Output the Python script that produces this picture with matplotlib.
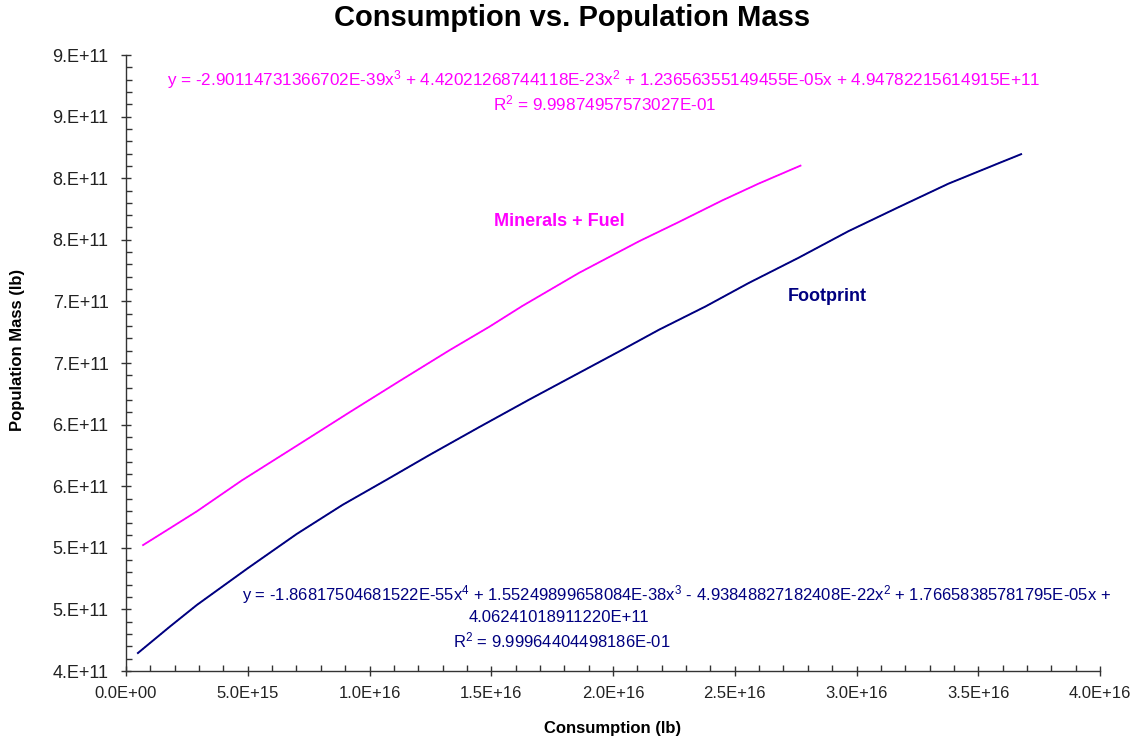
import matplotlib
matplotlib.use('Agg')
import matplotlib.pyplot as plt
from matplotlib.ticker import MultipleLocator

plt.rcParams['font.family'] = ['Liberation Sans', 'DejaVu Sans']
plt.rcParams['mathtext.default'] = 'regular'

# data (x in E+16 lb, y in E+11 lb)
foot_x = [0.049, 0.180, 0.291, 0.500, 0.701, 0.889, 1.070, 1.246, 1.451, 1.656, 1.861,
          2.033, 2.189, 2.381, 2.557, 2.762, 2.967, 3.172, 3.377, 3.582, 3.676]
foot_y = [4.146, 4.360, 4.536, 4.834, 5.112, 5.348, 5.552, 5.753, 5.980, 6.203, 6.420,
          6.602, 6.770, 6.960, 7.149, 7.354, 7.570, 7.764, 7.955, 8.120, 8.195]

min_x = [0.070, 0.180, 0.291, 0.475, 0.713, 0.918, 1.123, 1.328, 1.492, 1.627, 1.861,
         2.107, 2.270, 2.447, 2.598, 2.770]
min_y = [5.022, 5.158, 5.296, 5.546, 5.843, 6.100, 6.353, 6.603, 6.794, 6.962, 7.232,
         7.488, 7.644, 7.818, 7.956, 8.102]

foot_x = [v * 1e16 for v in foot_x]
foot_y = [v * 1e11 for v in foot_y]
min_x = [v * 1e16 for v in min_x]
min_y = [v * 1e11 for v in min_y]

y_ticks = [4.0e11, 4.5e11, 5.0e11, 5.5e11, 6.0e11, 6.5e11, 7.0e11, 7.5e11, 8.0e11, 8.5e11, 9.0e11]
y_labels = ['4.E+11', '5.E+11', '5.E+11', '6.E+11', '6.E+11', '7.E+11',
            '7.E+11', '8.E+11', '8.E+11', '9.E+11', '9.E+11']
x_ticks = [0, 0.5e16, 1.0e16, 1.5e16, 2.0e16, 2.5e16, 3.0e16, 3.5e16, 4.0e16]
x_labels = ['0.0E+00', '5.0E+15', '1.0E+16', '1.5E+16', '2.0E+16',
            '2.5E+16', '3.0E+16', '3.5E+16', '4.0E+16']

magenta = '#FF00FF'
navy = '#000080'

W, H = 1145, 742
fig = plt.figure(figsize=(W / 100, H / 100), dpi=100)
ax = fig.add_axes([126 / W, 1 - 671 / H, (1100 - 126) / W, (671 - 55) / H])

ax.plot(min_x, min_y, color=magenta, lw=1.3)
ax.plot(min_x, min_y, color=magenta, lw=0.8, ls=':')
ax.plot(foot_x, foot_y, color=navy, lw=1.4)
ax.plot(foot_x, foot_y, color=navy, lw=0.8, ls=':')

ax.set_xlim(0, 4.0e16)
ax.set_ylim(4.0e11, 9.0e11)
ax.set_xticks(x_ticks)
ax.set_xticklabels(x_labels)
ax.set_yticks(y_ticks)
ax.set_yticklabels(y_labels)
ax.xaxis.set_minor_locator(MultipleLocator(1e15))
ax.yaxis.set_minor_locator(MultipleLocator(1e10))
ax.tick_params(which='major', direction='inout', length=7, width=1, colors='#333333',
               labelcolor='#222222')
ax.tick_params(which='minor', direction='in', length=4, width=1, colors='#333333')
ax.tick_params(axis='x', pad=7, labelsize=12)
ax.tick_params(axis='y', pad=9, labelsize=13)
for s in ['top', 'right']:
    ax.spines[s].set_visible(False)
for s in ['left', 'bottom']:
    ax.spines[s].set_color('#333333')
    ax.spines[s].set_linewidth(1)


def ft(px, py, s, **kw):
    fig.text(px / W, 1 - py / H, s, ha='center', va='center', **kw)


ft(572, 18, 'Consumption vs. Population Mass', fontsize=21, fontweight='bold')
ft(613, 728, 'Consumption (lb)', fontsize=12, fontweight='bold')
ft(18, 350, 'Population Mass (lb)', fontsize=12, fontweight='bold', rotation=90)

ft(604, 80, 'y = -2.90114731366702E-39x$^{3}$ + 4.42021268744118E-23x$^{2}$ + '
   '1.23656355149455E-05x + 4.94782215614915E+11', fontsize=12.3, color=magenta)
ft(605, 103, 'R$^{2}$ = 9.99874957573027E-01', fontsize=12.3, color=magenta)

ft(676, 595, 'y = -1.86817504681522E-55x$^{4}$ + 1.55249899658084E-38x$^{3}$ - '
   '4.93848827182408E-22x$^{2}$ + 1.76658385781795E-05x +', fontsize=12, color=navy)
ft(559, 618, '4.06241018911220E+11', fontsize=12, color=navy)
ft(562, 640, 'R$^{2}$ = 9.99964404498186E-01', fontsize=12, color=navy)

ft(559, 222, 'Minerals + Fuel', fontsize=13, fontweight='bold', color=magenta)
ft(827, 297, 'Footprint', fontsize=13, fontweight='bold', color=navy)

fig.savefig('out.png', dpi=100)
